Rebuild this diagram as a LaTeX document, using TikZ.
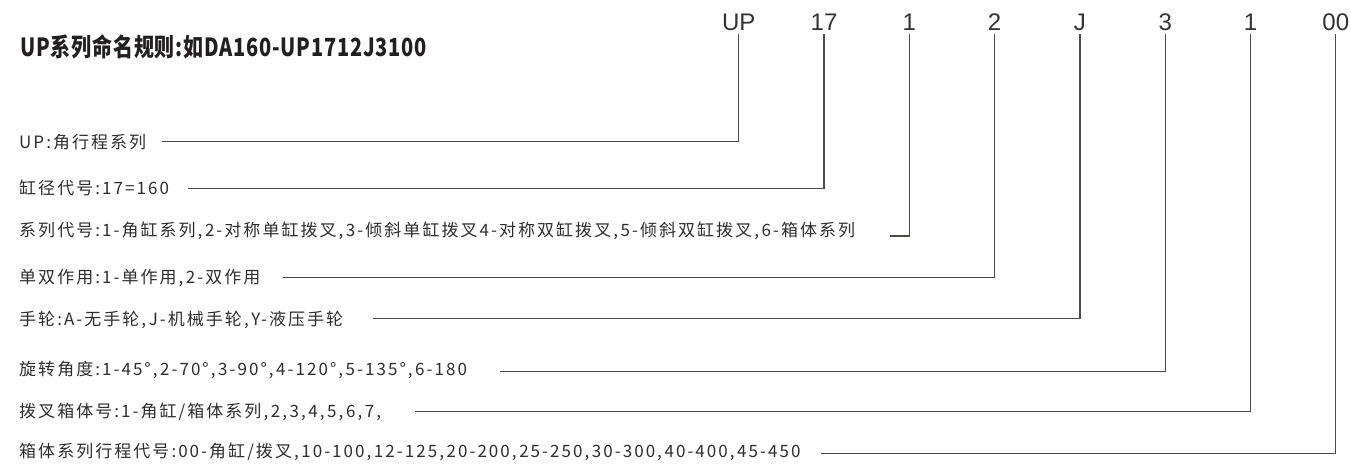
\documentclass[tikz,border=0pt]{standalone}
\usepackage{graphicx}
\usepackage{fontspec}
\setmainfont{Noto Sans CJK SC}
\newfontfamily\rowfont[LetterSpace=12]{Noto Sans CJK SC}
\newfontfamily\titlefont[LetterSpace=4]{Noto Sans CJK SC}
\newfontfamily\codefont{Liberation Sans}
\definecolor{txtc}{HTML}{2E2E2E}
\definecolor{titlec}{HTML}{231F20}
\definecolor{codec}{HTML}{333333}
\definecolor{linec}{HTML}{4D4A48}
\newcommand\cma{,\kern2.6pt}
\begin{document}
\begin{tikzpicture}[x=1pt,y=-1pt,
  rowlabel/.style={anchor=base west,inner sep=0pt,font=\rowfont\fontsize{17}{17}\selectfont,text=txtc},
  codelabel/.style={anchor=base,inner sep=0pt,font=\codefont\fontsize{24}{24}\selectfont,text=codec},
  link/.style={draw=linec,line width=1.3pt}]
\useasboundingbox (0,0) rectangle (1351,463);
\node[anchor=base west,inner sep=0pt,font=\titlefont\bfseries\fontsize{25}{25}\selectfont,text=titlec] (title) at (20,56.5) {\scalebox{0.8}[1]{UP系列命名规则:如DA160-UP1712J3100}};
% codes
\node[codelabel] (c1) at (738.7,30) {UP};
\node[codelabel] (c2) at (824.0,30) {17};
\node[codelabel] (c3) at (909.3,30) {1};
\node[codelabel] (c4) at (994.6,30) {2};
\node[codelabel] (c5) at (1079.9,30) {J};
\node[codelabel] (c6) at (1165.2,30) {3};
\node[codelabel] (c7) at (1250.5,30) {1};
\node[codelabel] (c8) at (1335.8,30) {00};
% rows
\node[rowlabel] (r1) at (19,148.5) {UP:角行程系列};
\node[rowlabel] (r2) at (19,194) {缸径代号:17=160};
\node[rowlabel] (r3) at (19,236.5) {系列代号:1-角缸系列\cma 2-对称单缸拨叉\cma 3-倾斜单缸拨叉4-对称双缸拨叉\cma 5-倾斜双缸拨叉\cma 6-箱体系列};
\node[rowlabel] (r4) at (19,283) {单双作用:1-单作用\cma 2-双作用};
\node[rowlabel] (r5) at (19,325.5) {手轮:A-无手轮\cma J-机械手轮\cma Y-液压手轮};
\node[rowlabel] (r6) at (19,375.5) {旋转角度:1-45°\cma 2-70°\cma 3-90°\cma 4-120°\cma 5-135°\cma 6-180};
\node[rowlabel] (r7) at (19,417) {拨叉箱体号:1-角缸/箱体系列\cma 2\cma 3\cma 4\cma 5\cma 6\cma 7\cma};
\node[rowlabel] (r8) at (19,457) {箱体系列行程代号:00-角缸/拨叉\cma 10-100\cma 12-125\cma 20-200\cma 25-250\cma 30-300\cma 40-400\cma 45-450};
% line starts
\coordinate (s1) at (162,141.7);
\coordinate (s2) at (188,188.5);
\coordinate (s3) at (890,236);
\coordinate (s4) at (283,277.3);
\coordinate (s5) at (373,318.5);
\coordinate (s6) at (500,371.5);
\coordinate (s7) at (415,411.5);
\coordinate (s8) at (821,453.3);
\foreach \i in {1,...,8}{
  \draw[link] (s\i) -| ([yshift=-4pt]c\i.base);
}
\end{tikzpicture}
\end{document}
